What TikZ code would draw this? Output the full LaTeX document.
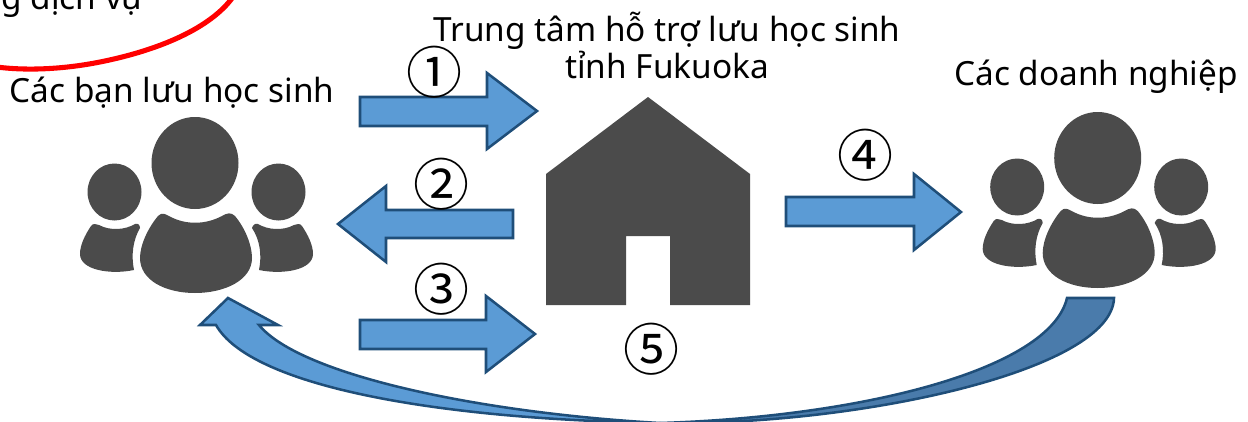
\documentclass[tikz,border=0pt]{standalone}
\usepackage{fontspec}
\setmainfont{Noto Sans}
\newfontfamily\cjkfont{Noto Sans CJK JP}
\definecolor{icon}{HTML}{4B4B4B}
\definecolor{blockfill}{HTML}{5B9BD5}
\definecolor{blockedge}{HTML}{1F4E79}
\definecolor{blockdark}{HTML}{4A7BAB}
\tikzset{
  blockarrow/.style={fill=blockfill,draw=blockedge,line width=1.9pt,line join=miter},
  label/.style={anchor=base,font=\fontsize{25}{30}\selectfont,text=black,inner sep=0pt},
  num/.style={anchor=center,font=\cjkfont\fontsize{42}{46}\selectfont,text=black,inner sep=0pt},
  people/.pic={
    \fill[icon] (195,163) ellipse [x radius=43.5,y radius=46];
    \fill[icon] (114.5,192) ellipse [x radius=27,y radius=28.5];
    \fill[icon] (278.5,192) ellipse [x radius=27,y radius=28.5];
    \fill[icon] (158,216) .. controls (162,212) and (165,214) .. (169,216)
      .. controls (185,225) and (205,225) .. (222,216)
      .. controls (227,213) and (231,212) .. (235,216)
      .. controls (245,228) and (252,245) .. (252,258)
      .. controls (252,280) and (225,293) .. (195,293)
      .. controls (165,293) and (140,280) .. (140,258)
      .. controls (140,245) and (148,228) .. (158,216) -- cycle;
    \fill[icon] (91,226) .. controls (93,223) and (96,224) .. (99,225)
      .. controls (110,231) and (125,230) .. (135,224)
      .. controls (138,223) and (140,225) .. (140,228)
      .. controls (133,240) and (131,255) .. (134,270)
      .. controls (110,275) and (80,270) .. (80,254)
      .. controls (80,245) and (85,235) .. (91,226) -- cycle;
    \fill[icon] (302,226) .. controls (300,223) and (297,224) .. (294,225)
      .. controls (283,231) and (268,230) .. (258,224)
      .. controls (255,223) and (253,225) .. (252,228)
      .. controls (260,240) and (262,255) .. (259,270)
      .. controls (283,275) and (313,270) .. (313,254)
      .. controls (313,245) and (308,235) .. (302,226) -- cycle;
  }
}
\begin{document}
\begin{tikzpicture}[x=0.75pt,y=-0.75pt]
\useasboundingbox (0,0) rectangle (1248,421);
% red ellipse
\draw[red,line width=3.8pt] (-10,66) .. controls (20,71) and (60,70) .. (100,62)
  .. controls (165,49) and (215,25) .. (235,-6);
\node[label] (svc) at (72,9) {g dịch vụ};
% people
\pic (students) at (0,0) {people};
\pic (firms) at (902.7,-5) {people};
% house
\fill[icon] (648,97) -- (750,174) -- (750,305) -- (670,305) -- (670,236) -- (626,236) -- (626,305) -- (546,305) -- (546,174) -- cycle;
% block arrows
\path[blockarrow] (360,97) -- (487,97) -- (487,73) -- (537,111) -- (487,149) -- (487,126) -- (360,126) -- cycle;
\path[blockarrow] (513,210) -- (386,210) -- (386,186) -- (338,224) -- (386,262) -- (386,238) -- (513,238) -- cycle;
\path[blockarrow] (360,320) -- (486,320) -- (486,296) -- (535,334) -- (486,372) -- (486,349) -- (360,349) -- cycle;
\path[blockarrow] (786,197) -- (914,197) -- (914,174) -- (961,212) -- (914,250) -- (914,226) -- (786,226) -- cycle;
% curved arrow
\path[blockarrow,fill=blockdark] (1067,298) -- (1114,298)
  .. controls (1112,370) and (860,426) .. (660,423)
  .. controls (860,417) and (1050,370) .. (1067,298) -- cycle;
\path[blockarrow] (660,423)
  .. controls (430,419) and (250,385) .. (216,325)
  -- (200,325) -- (228,298) -- (278,325) -- (259,325)
  .. controls (300,375) and (480,413) .. (660,423) -- cycle;
% labels
\node[label] (center1) at (667,41) {Trung tâm hỗ trợ lưu học sinh};
\node[label] (center2) at (667,78) {tỉnh Fukuoka};
\node[label] (studentlabel) at (172,102) {Các bạn lưu học sinh};
\node[label] (firmlabel) at (1096,85) {Các doanh nghiệp};
\node[num] (n1) at (434,72) {①};
\node[num] (n2) at (441,184) {②};
\node[num] (n3) at (441,289) {③};
\node[num] (n4) at (865,155) {④};
\node[num] (n5) at (651,349) {⑤};
\end{tikzpicture}
\end{document}
